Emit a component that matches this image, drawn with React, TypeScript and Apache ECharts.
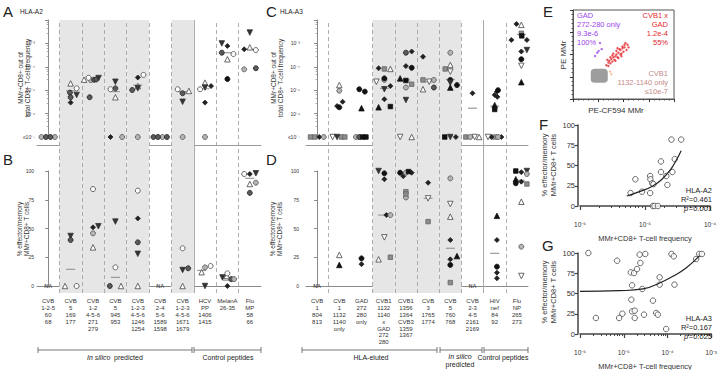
import React, { useEffect, useRef } from "react";
import * as echarts from "echarts";

const FONT = '"Liberation Sans", Arial, Helvetica, sans-serif';

// ---------- categories ----------
const catsA = [
  "CVB\n1-2-5\n60\n68", "CVB\n5\n169\n177", "CVB\n1-2\n4-5-6\n271\n279", "CVB\n5\n945\n953",
  "CVB\n1-2-3\n4-5-6\n1246\n1254", "CVB\n2-4\n5-6\n1589\n1598", "CVB\n1-2-3\n4-5-6\n1671\n1679",
  "HCV\nPP\n1406\n1415", "MelanA\n26-35", "Flu\nMP\n58\n66",
];
const catsC = [
  "CVB\n1\n804\n813", "CVB\n1\n1132\n1140\nonly", "GAD\n272\n280\nonly", "CVB1\n1132\n1140\nx\nGAD\n272\n280",
  "CVB1\n1356\n1364\nCVB3\n1359\n1367", "CVB\n3\n1765\n1774", "CVB\n5\n760\n768", "CVB\n2-3\n4-5\n2161\n2169",
  "HIV\nnef\n84\n92", "Flu\nNP\n265\n273",
];

// shaded categories and separators (category index units)
const shadedA = [1, 2, 3, 4, 6];
const dashedA = [0.5, 1.5, 2.5, 3.5, 4.5, 5.5, 7.5, 8.5];
const solidA = [6.5];
const shadedC = [3, 4, 5, 6];
const dashedC = [0.5, 2.5, 3.5, 4.5, 5.5, 6.5, 8.5];
const solidC = [7.5];
const thresholdA = 4.2e-6;
const thresholdC = 4.2e-6;
const naB = [0, 5];
const naD = [0, 7];

// ---------- panel data: [category position, value, donor marker] ----------
const ptsA: [number, number, string][] = [
  [-0.3, 1e-7, "xc"], [-0.1, 1e-7, "dc"], [0.1, 1e-7, "dc"], [0.3, 1e-7, "xc"],
  [1, 1.95e-5, "ot"], [1.27, 1.2e-5, "oc"], [0.97, 7.9e-6, "dc"], [1.27, 6.3e-6, "fd"], [1, 5.0e-6, "dc"], [1, 2.95e-6, "dm"], [1, 9.5e-6, "med"],
  [1.6, 2.8e-5, "ot"], [1.8, 3.4e-5, "oc"], [1.9, 2.7e-5, "xc"], [2.05, 2.8e-5, "dc"], [2.15, 2.9e-5, "dc"], [2.25, 3.3e-5, "fd"], [1.85, 5.0e-6, "dc"], [2, 2.75e-5, "med"],
  [2.78, 1.1e-5, "oc"], [3, 1.2e-5, "dc"], [3, 2.3e-5, "fd"], [3, 8.7e-6, "med"], [3, 5.0e-6, "ot"], [2.78, 1e-7, "dm"], [3.3, 1e-7, "xc"],
  [3.75, 1.02e-5, "dc"], [4, 1.5e-5, "ot"], [4, 1.2e-5, "fd"], [4, 3.5e-5, "dm"], [4.25, 4.5e-5, "oc"], [4, 1.66e-5, "med"], [4, 1e-7, "xc"],
  [4.7, 1e-7, "dc"], [4.9, 1e-7, "dc"], [5.1, 1e-7, "xc"], [5.3, 1e-7, "dc"],
  [5.78, 1.1e-5, "oc"], [6, 7.4e-6, "dc"], [6.28, 9.3e-6, "ot"], [6, 3.2e-6, "fd"], [6, 8.7e-6, "med"], [6, 1e-7, "xc"],
  [6.78, 1.1e-5, "oc"], [7, 2.1e-5, "ot"], [7, 1.3e-5, "fd"], [7.27, 1.5e-5, "dm"], [7, 2.95e-6, "dm"], [7, 1.15e-5, "med"], [7, 1e-7, "xc"],
  [7.75, 1e-3, "fd"], [8, 7.8e-4, "dm"], [7.75, 4e-4, "dc"], [8.27, 3.5e-4, "oc"], [8, 2.1e-4, "ot"], [8, 3.0e-5, "fc"], [8, 4e-4, "med"],
  [9, 2.9e-3, "fd"], [8.75, 5.6e-4, "dm"], [9, 6.8e-4, "ot"], [9.27, 5.2e-4, "oc"], [9, 5.6e-4, "med"], [8.75, 7.8e-5, "xc"], [9.27, 8.7e-5, "dc"],
];
const ptsB: [number, number, string][] = [
  [1, 43.5, "fd"], [1, 40, "dc"], [1, 14.5, "med"], [0.75, 0, "ot"], [1.27, 0, "oc"],
  [2, 84.3, "oc"], [2, 51, "dm"], [2.24, 52, "fd"], [2, 45.8, "xc"], [2, 33.6, "ot"],
  [3, 56, "fd"], [3, 16.2, "oc"], [3, 7.5, "med"], [2.75, 0, "dc"], [3.25, 0, "ot"],
  [4, 82.9, "oc"], [4, 58.8, "dm"], [4, 38, "dc"], [4, 28, "fd"], [4, 0, "ot"],
  [6, 32.8, "oc"], [6, 13.9, "fd"], [6.25, 15.4, "dc"], [6, 0, "ot"],
  [7, 16.2, "xc"], [6.85, 12, "ot"], [6.85, 13.5, "med"], [7.25, 17.4, "oc"], [7, 0, "fd"],
  [8, 11, "oc"], [7.78, 7.5, "fd"], [7.97, 8.7, "ot"], [8.17, 6, "dc"], [8.3, 6, "xc"], [8, 5, "med"], [8, 0, "dm"],
  [8.75, 97.4, "oc"], [9, 97.4, "dm"], [9.27, 98, "fd"], [9, 93.6, "med"], [9, 88.7, "ot"], [9.27, 89.8, "xc"], [9, 81, "dc"],
];
const ptsC: [number, number, string][] = [
  [-0.3, 1e-7, "gs"], [-0.1, 1e-7, "gs"], [0.1, 1e-7, "dm"], [0.3, 1e-7, "xc"],
  [1, 1.66e-5, "ot"], [1, 9.5e-6, "xc"], [1.15, 3.2e-6, "dm"], [0.9, 2.1e-6, "dm"], [1, 1.86e-6, "fc"], [0.7, 1e-7, "od"], [0.9, 1e-7, "fd"], [1.1, 1e-7, "gs"], [1.25, 1e-7, "gs"],
  [1.9, 1.1e-5, "fc"], [2.15, 8.7e-6, "fc"], [2, 1.7e-6, "ft"], [1.75, 1e-7, "xc"], [1.9, 1e-7, "dc"], [2.05, 1e-7, "bs"], [2.2, 1e-7, "bs"],
  [2.77, 8.7e-5, "dm"], [3.03, 8.1e-5, "gs"], [3.3, 8.1e-5, "ot"], [2.67, 2.3e-5, "od"], [3.03, 2.75e-5, "xc"], [3.03, 3.2e-5, "fc"], [3.03, 1.2e-5, "med"], [3.03, 1.1e-5, "fd"], [3.3, 1.5e-5, "dm"], [3.03, 4.1e-6, "dm"], [2.77, 1.86e-6, "ft"], [3.3, 2.0e-6, "bs"],
  [4, 4e-4, "dc"], [4.26, 4.5e-4, "dm"], [4, 1.07e-4, "dm"], [4.26, 9.1e-5, "fc"], [3.74, 3.2e-5, "ft"], [4, 2.6e-5, "bs"], [4, 2.75e-5, "med"], [4, 1.3e-5, "xc"], [4.26, 1.8e-5, "gs"], [4, 3.8e-6, "fd"], [3.74, 1e-7, "od"], [4.26, 1e-7, "ot"],
  [4.77, 2.7e-4, "dm"], [4.77, 2.75e-5, "gs"], [5.05, 2.3e-5, "od"], [5.26, 2.75e-5, "xc"], [4.77, 1.1e-5, "ot"], [5.26, 1.3e-5, "dc"], [5, 2.3e-5, "med"],
  [6, 4e-4, "xc"], [5.77, 8.1e-5, "gs"], [6, 1.2e-4, "ot"], [6, 6.2e-5, "od"], [6, 2.75e-5, "fc"], [6, 2.9e-5, "med"], [6, 2.1e-5, "fd"], [6, 1.3e-5, "ft"], [6.3, 1.66e-5, "fc"], [5.75, 1e-7, "bs"], [6, 1e-7, "fd"], [6.25, 1e-7, "dm"],
  [7, 7.4e-6, "dm"], [7, 1.7e-6, "med"], [6.7, 1e-7, "gs"], [6.9, 1e-7, "xc"], [7.1, 1e-7, "od"], [7.3, 1e-7, "ot"],
  [8.1, 8.7e-6, "dm"], [8, 6.3e-6, "dm"], [8.12, 5.2e-6, "dm"], [8.15, 1.0e-5, "fc"], [8, 2.1e-6, "med"], [8, 2.3e-6, "ft"], [8, 1.5e-6, "bs"], [7.7, 1e-7, "od"], [7.85, 1e-7, "dm"], [8, 1e-7, "gs"], [8.15, 1e-7, "xc"], [8.3, 1e-7, "dm"],
  [8.98, 6.8e-3, "dm"], [9.2, 6.2e-3, "ot"], [9.2, 2.7e-3, "gs"], [9.22, 2.1e-3, "bs"], [9.2, 2.4e-3, "med"], [8.75, 1.4e-3, "dm"], [9.45, 1.4e-3, "dm"], [9.2, 4.5e-4, "dm"], [9.45, 5.2e-4, "fd"], [9.2, 2.1e-4, "fc"], [9.2, 1.1e-4, "od"], [9.2, 2.2e-5, "ft"],
];
const ptsD: [number, number, string][] = [
  [1, 27, "ot"], [1, 18.3, "ft"],
  [2, 24, "fc"], [2, 19, "dm"],
  [2.77, 100, "fd"], [3.03, 98, "fc"], [3.03, 92.8, "dm"], [2.95, 61.7, "med"], [3.12, 61.7, "dm"], [3.3, 61.7, "xc"], [3.03, 42.3, "od"], [2.77, 23.2, "ot"], [3.3, 25, "gs"],
  [3.74, 98.5, "fc"], [4, 98.5, "xc"], [4.12, 99.5, "bs"], [4.26, 98.5, "dm"], [3.88, 95.5, "dm"], [4, 82, "gs"], [4, 80, "gs"], [4, 77, "xc"], [4, 98.5, "med"],
  [5, 89.8, "dm"], [5, 76.2, "od"], [5, 76.2, "med"], [5, 56, "gs"],
  [6, 93.6, "xc"], [6, 71.3, "od"], [6, 60.3, "ot"], [6, 40, "dm"], [6, 32.8, "med"], [6, 23.2, "dm"], [6.3, 26, "ft"], [6, 18.3, "fc"], [6, 3, "gs"],
  [8.1, 61, "ft"], [8.1, 40, "dm"], [8, 28.4, "med"], [8.1, 16.8, "fc"], [8.1, 11.6, "dm"], [8.1, 6.7, "dm"],
  [8.95, 100, "bs"], [9.2, 99, "dm"], [9.45, 100, "fd"], [9.45, 97.4, "xc"], [8.95, 92.8, "ft"], [8.95, 89.3, "fc"], [9.2, 90.7, "dm"], [9.45, 88.7, "gs"], [9.15, 92, "med"], [9.2, 73.3, "ot"], [9.2, 34.2, "xc"], [9.2, 8.7, "od"],
];

// ---------- panel E (flow plot, arbitrary fluorescence units 0-100) ----------
const eGray = [[26, 26]];
const eRed = [
  [33, 38], [35, 41], [36, 43], [37, 40], [38, 45], [39, 42], [40, 47], [41, 44], [42, 48], [39, 49],
  [43, 50], [44, 47], [45, 52], [43, 54], [47, 50], [47, 55], [48, 51], [49, 57], [50, 53], [51, 58],
  [53, 55], [54, 61], [46, 56], [42, 43], [37, 47], [49, 59], [35, 37], [51, 61], [45, 46], [40, 51],
  [52, 63], [55, 58], [44, 57], [34, 44], [48, 48],
];
const ePurple = [[26.7, 63], [28.4, 56], [25.4, 54], [21.8, 48.3], [24, 52]];
const eOrange = [[36.6, 30.7], [38, 28]];

// ---------- panels F and G ----------
const fPts = [
  [7.1e-6, 33], [6.0e-6, 16], [9.0e-6, 17.7], [1.2e-5, 37], [1.21e-5, 33], [1.29e-5, 28], [1.35e-5, 27],
  [1.2e-5, 16], [1.32e-5, 0], [1.4e-5, 0], [1.58e-5, 0], [1.76e-5, 55], [1.76e-5, 42], [2.13e-5, 37],
  [2.21e-5, 26], [2.64e-5, 42], [2.55e-5, 82], [2.87e-5, 58], [3.6e-5, 82],
];
const fFit = [[5.25e-6, 12.3], [8.2e-6, 17.7], [1.32e-5, 24.7], [1.89e-5, 34.2], [2.55e-5, 46.5], [3.04e-5, 56.8], [3.6e-5, 68.3]];
const gPts = [
  [1.55e-6, 100], [2.31e-6, 19.8], [7.05e-6, 90.5], [7.83e-6, 19.8], [9.3e-6, 25.1], [1.45e-5, 76.1],
  [1.55e-5, 60.1], [1.49e-5, 42.4], [1.55e-5, 28], [1.78e-5, 28.8], [1.78e-5, 19.8], [1.72e-5, 75.3],
  [2.01e-5, 80.2], [2.31e-5, 98], [2.39e-5, 87.7], [3.1e-5, 98.8], [2.65e-5, 55.6], [2.9e-5, 23.9],
  [4.65e-5, 41.2], [5.5e-5, 25.9], [6.0e-5, 23.9], [6.6e-5, 70], [6.6e-5, 60.9], [9.3e-5, 6.2],
  [1.23e-4, 98.8], [1.39e-4, 95.9], [1.44e-4, 60.9], [4.49e-4, 92.6], [5.3e-4, 98.8], [6.1e-4, 98.8],
];
const gFit = [[1.0e-6, 52.7], [8.1e-6, 53.5], [2.75e-5, 55.6], [6.6e-5, 63], [1.32e-4, 71.2], [2.65e-4, 81.5], [5.4e-4, 96.7]];

// ---------- styling ----------
const MK: Record<string, any> = {
  oc: { symbol: "circle", size: 5, fill: "#fff", stroke: "#444" },
  fc: { symbol: "circle", size: 5, fill: "#111", stroke: "#111" },
  dc: { symbol: "circle", size: 5, fill: "#5a5a5a", stroke: "#222" },
  xc: { symbol: "circle", size: 5, fill: "#b4b4b4", stroke: "#555" },
  ot: { symbol: "triangle", size: 5.5, fill: "#fff", stroke: "#444" },
  ft: { symbol: "triangle", size: 5.5, fill: "#111", stroke: "#111" },
  fd: { symbol: "triangle", size: 5.5, fill: "#333", stroke: "#333", rotate: 180 },
  od: { symbol: "triangle", size: 5.5, fill: "#fff", stroke: "#444", rotate: 180 },
  dm: { symbol: "diamond", size: 5, fill: "#222", stroke: "#222" },
  gs: { symbol: "rect", size: 4.5, fill: "#8c8c8c", stroke: "#666" },
  bs: { symbol: "rect", size: 4.5, fill: "#111", stroke: "#111" },
  med: { symbol: "rect", size: [9, 1.2], fill: "#9a9a9a", stroke: "#9a9a9a" },
};

const SUP: Record<string, string> = { "-": "⁻", "0": "⁰", "1": "¹", "2": "²", "3": "³", "4": "⁴", "5": "⁵", "6": "⁶", "7": "⁷", "8": "⁸", "9": "⁹" };
const sup = (s: string) => s.split("").map((c) => SUP[c] || c).join("");
const expOf = (v: number) => Math.round(Math.log10(v));

function buildOption() {
  const grid: any[] = [];
  const xAxis: any[] = [];
  const yAxis: any[] = [];
  const series: any[] = [];
  const addGrid = (g: any) => { grid.push(g); return grid.length - 1; };
  const addX = (a: any) => { xAxis.push(a); return xAxis.length - 1; };
  const addY = (a: any) => { yAxis.push(a); return yAxis.length - 1; };

  const hiddenCat = (gi: number) => addX({ type: "value", gridIndex: gi, min: -0.5, max: 9.5, show: false });

  // background band grid (shading + separators) spanning top and bottom panels
  const background = (left: number, width: number, shaded: number[], dashed: number[], solid: number[]) => {
    const gi = addGrid({ left, width, top: 20, height: 273 });
    const xi = hiddenCat(gi);
    const yi = addY({ type: "value", gridIndex: gi, min: 0, max: 1, show: false });
    series.push({
      type: "scatter", xAxisIndex: xi, yAxisIndex: yi, data: [[0, 0.5]], symbolSize: 0, silent: true, z: -2,
      markArea: { silent: true, itemStyle: { color: "#e6e6e6" }, data: shaded.map((i) => [{ xAxis: i - 0.5 }, { xAxis: i + 0.5 }]) },
    });
    series.push({
      type: "scatter", xAxisIndex: xi, yAxisIndex: yi, data: [[0, 0.5]], symbolSize: 0, silent: true, z: -1,
      markLine: {
        silent: true, symbol: ["none", "none"], label: { show: false },
        lineStyle: { color: "#9a9a9a", width: 0.8, type: [4, 3] },
        data: [
          ...dashed.map((b) => ({ xAxis: b })),
          ...solid.map((b) => ({ xAxis: b, lineStyle: { type: "solid", color: "#aaa", width: 1 } })),
        ],
      },
    });
  };

  const scatterGroups = (pts: [number, number, string][], xi: number, yi: number) => {
    const groups: Record<string, number[][]> = {};
    pts.forEach(([x, v, m]) => { (groups[m] = groups[m] || []).push([x, v]); });
    Object.keys(groups).forEach((m) => {
      const s = MK[m];
      series.push({
        type: "scatter", xAxisIndex: xi, yAxisIndex: yi, data: groups[m], silent: true,
        symbol: s.symbol, symbolSize: s.size, symbolRotate: s.rotate || 0,
        itemStyle: { color: s.fill, borderColor: s.stroke, borderWidth: m === "med" ? 0 : 0.8, opacity: 1 },
        z: m === "med" ? 3 : 4,
      });
    });
  };

  const freqPanel = (left: number, width: number, cats: string[], pts: any, thr: number, yOffset: number) => {
    const gi = addGrid({ left, width, top: 20, height: 117 });
    addX({
      type: "category", gridIndex: gi, data: cats, position: "bottom", offset: 8,
      axisLine: { lineStyle: { color: "#9a9a9a", width: 1 } },
      axisTick: { alignWithLabel: true, length: 3, lineStyle: { color: "#9a9a9a" } },
      axisLabel: { show: false }, splitLine: { show: false },
    });
    const xi = hiddenCat(gi);
    const yi = addY({
      type: "log", gridIndex: gi, min: 1e-7, max: 1e-2, logBase: 10, offset: yOffset,
      axisLine: { show: true, lineStyle: { color: "#888" } },
      axisTick: { show: true, length: 3, lineStyle: { color: "#888" } },
      minorTick: { show: true, splitNumber: 5, length: 1.5, lineStyle: { color: "#aaa" } },
      splitLine: { show: false },
      axisLabel: {
        fontSize: 5, margin: 2, color: "#333",
        formatter: (v: number) => { const e = expOf(v); if (e >= -2) return ""; return (e === -7 ? "≤10" : "10") + sup(String(e)); },
      },
    });
    scatterGroups(pts, xi, yi);
    series.push({
      type: "scatter", xAxisIndex: xi, yAxisIndex: yi, data: [], silent: true, z: 1,
      markLine: { silent: true, symbol: ["none", "none"], label: { show: false }, lineStyle: { color: "#b0b0b0", width: 1, type: "solid" }, data: [{ yAxis: thr }] },
    });
  };

  const pctPanel = (left: number, width: number, cats: string[], pts: any, na: number[], yOffset: number) => {
    const gi = addGrid({ left, width, top: 171, height: 115 });
    addX({
      type: "category", gridIndex: gi, data: cats, position: "bottom", offset: 7,
      axisLine: { lineStyle: { color: "#8a8a8a", width: 1 } },
      axisTick: { alignWithLabel: true, length: 3, lineStyle: { color: "#8a8a8a" } },
      axisLabel: { interval: 0, fontSize: 6, lineHeight: 6.8, color: "#333", margin: 5 },
      splitLine: { show: false },
    });
    const xi = hiddenCat(gi);
    const yi = addY({
      type: "value", gridIndex: gi, min: 0, max: 100, interval: 25, offset: yOffset,
      axisLine: { show: true, lineStyle: { color: "#888" } },
      axisTick: { show: true, length: 3, lineStyle: { color: "#888" } },
      splitLine: { show: false },
      axisLabel: { fontSize: 5, margin: 3, color: "#333" },
    });
    scatterGroups(pts, xi, yi);
    series.push({
      type: "scatter", xAxisIndex: xi, yAxisIndex: yi, data: na.map((i) => [i, 0]), symbolSize: 0, silent: true, z: 5,
      label: { show: true, position: "inside", formatter: "NA", fontSize: 5.5, fontWeight: "bold", color: "#333" },
    });
  };

  background(37, 224, shadedA, dashedA, solidA);
  freqPanel(37, 224, catsA, ptsA, thresholdA, 0);
  pctPanel(37, 224, catsA, ptsB, naB, 0);

  background(306, 222, shadedC, dashedC, solidC);
  freqPanel(306, 222, catsC, ptsC, thresholdC, 4);
  pctPanel(306, 222, catsC, ptsD, naD, 4);

  // ---- E ----
  {
    const gi = addGrid({ left: 573, top: 10, width: 101, height: 89, show: true, borderColor: "#555", borderWidth: 1 });
    const xi = addX({
      type: "value", gridIndex: gi, min: 0, max: 100, interval: 25,
      axisLine: { lineStyle: { color: "#555" } }, axisTick: { length: 3, lineStyle: { color: "#333" } },
      minorTick: { show: true, splitNumber: 5, length: 1.5, lineStyle: { color: "#555" } },
      axisLabel: { show: false }, splitLine: { show: false },
    });
    const yi = addY({
      type: "value", gridIndex: gi, min: 0, max: 100, interval: 25,
      axisLine: { lineStyle: { color: "#555" } }, axisTick: { length: 3, lineStyle: { color: "#333" } },
      minorTick: { show: true, splitNumber: 5, length: 1.5, lineStyle: { color: "#555" } },
      axisLabel: { show: false }, splitLine: { show: false },
    });
    series.push({ type: "scatter", xAxisIndex: xi, yAxisIndex: yi, data: eGray, symbol: "roundRect", symbolSize: [17, 14], itemStyle: { color: "#858585" }, silent: true });
    series.push({ type: "scatter", xAxisIndex: xi, yAxisIndex: yi, data: eRed, symbolSize: 2.4, itemStyle: { color: "#e3262c" }, silent: true });
    series.push({ type: "scatter", xAxisIndex: xi, yAxisIndex: yi, data: ePurple, symbolSize: 2.4, itemStyle: { color: "#9b45e8" }, silent: true });
    series.push({ type: "scatter", xAxisIndex: xi, yAxisIndex: yi, data: eOrange, symbolSize: 2, itemStyle: { color: "#f2a66a" }, silent: true });
  }

  // ---- F & G ----
  const corrPanel = (top: number, width: number, xmax: number, pts: number[][], fit: number[][]) => {
    const gi = addGrid({ left: 580, top, width, height: 81 });
    const xi = addX({
      type: "log", gridIndex: gi, min: 1e-6, max: xmax, logBase: 10, offset: 11,
      axisLine: { lineStyle: { color: "#444", width: 1.5 } },
      axisTick: { length: 4, lineStyle: { color: "#444", width: 1.2 } },
      minorTick: { show: true, splitNumber: 9, length: 2, lineStyle: { color: "#444" } },
      splitLine: { show: false },
      axisLabel: { fontSize: 6.5, color: "#333", margin: 4, formatter: (v: number) => "10" + sup(String(expOf(v))) },
    });
    const yi = addY({
      type: "value", gridIndex: gi, min: 0, max: 100, interval: 25, offset: 2,
      axisLine: { show: true, lineStyle: { color: "#444", width: 1.5 } },
      axisTick: { show: true, length: 3, lineStyle: { color: "#444", width: 1.2 } },
      splitLine: { show: false },
      axisLabel: { fontSize: 7.5, color: "#333", margin: 3 },
    });
    series.push({
      type: "scatter", xAxisIndex: xi, yAxisIndex: yi, data: pts, symbol: "circle", symbolSize: 5.5, silent: true,
      itemStyle: { color: "#fff", borderColor: "#333", borderWidth: 0.9 }, z: 3,
    });
    series.push({
      type: "line", xAxisIndex: xi, yAxisIndex: yi, data: fit, smooth: true, showSymbol: false, silent: true,
      lineStyle: { color: "#222", width: 1.2 }, z: 4,
    });
  };
  corrPanel(125, 130, 1e-4, fPts, fFit);
  corrPanel(253, 132, 1e-3, gPts, gFit);

  // ---- annotations ----
  const T = (x: number, y: number, text: string, extra: any = {}) => ({
    type: "text", x, y, silent: true, z: 10,
    style: { text, fontFamily: FONT, fill: "#222", fontSize: 7, verticalAlign: "top", ...extra },
  });
  // vertical (rotated) text centred on (x, y)
  const V = (x: number, y: number, text: string, fontSize: number, lineHeight: number) => ({
    type: "text", x, y, rotation: Math.PI / 2, silent: true, z: 10,
    style: { text, fontFamily: FONT, fill: "#333", fontSize, lineHeight, align: "center", verticalAlign: "middle" },
  });
  const L = (x1: number, y1: number, x2: number, y2: number) => ({
    type: "line", silent: true, z: 10, shape: { x1, y1, x2, y2 }, style: { stroke: "#555", lineWidth: 0.8 },
  });
  const bracket = (x1: number, x2: number, y: number) => [L(x1, y, x2, y), L(x1, y - 3, x1, y + 3), L(x2, y - 3, x2, y + 3)];

  const graphic: any[] = [
    T(3, 4, "A", { fontSize: 15 }), T(20, 8, "HLA-A2", { fontSize: 6.5 }),
    T(3, 152, "B", { fontSize: 15 }),
    T(266, 4, "C", { fontSize: 15 }), T(280, 8, "HLA-A3", { fontSize: 6.5 }),
    T(266, 152, "D", { fontSize: 15 }),
    T(543, 4, "E", { fontSize: 15 }),
    T(539, 117, "F", { fontSize: 15 }),
    T(542, 238, "G", { fontSize: 15 }),
    // axis titles
    V(23.5, 78, "MMr+CD8+ out of\ntotal CD8+ T-cell frequency", 6.5, 7),
    V(22.5, 229, "% effector/memory\nMMr+CD8+ T cells", 6.5, 7),
    V(276.5, 78, "MMr+CD8+ out of\ntotal CD8+ T-cell frequency", 6.5, 7),
    V(275.5, 229, "% effector/memory\nMMr+CD8+ T cells", 6.5, 7),
    V(563, 55, "PE MMr", 8, 9),
    T(616, 106, "PE-CF594 MMr", { align: "center", fontSize: 8, fill: "#333" }),
    V(549, 165, "% effector/memory\nMMr+CD8+ T cells", 7.5, 8.5),
    V(549, 292, "% effector/memory\nMMr+CD8+ T cells", 7.5, 8.5),
    T(645, 234, "MMr+CD8+ T-cell frequency", { align: "center", fontSize: 7.5, fill: "#333" }),
    T(645, 362, "MMr+CD8+ T-cell frequency", { align: "center", fontSize: 7.5, fill: "#333" }),
    // group brackets
    ...bracket(38, 192, 350), ...bracket(194, 261, 350),
    T(87, 354, "In silico", { fontStyle: "italic" }), T(114, 354, "predicted"),
    T(228, 354, "Control peptides", { align: "center" }),
    ...bracket(302, 437, 350), ...bracket(440, 482, 350), ...bracket(484, 528, 350),
    T(371, 354, "HLA-eluted", { align: "center" }),
    T(460, 353, "In silico", { align: "center", fontStyle: "italic" }),
    T(460, 361, "predicted", { align: "center" }),
    T(503, 354, "Control peptides", { align: "center" }),
    // E texts
    T(577, 11, "GAD\n272-280 only\n9.3e-6\n100%", { fill: "#9b45e8", fontSize: 7.5, lineHeight: 9 }),
    T(668, 11, "CVB1 x\nGAD\n1.2e-4\n55%", { fill: "#e3262c", fontSize: 7.5, lineHeight: 9, align: "right" }),
    T(668, 69, "CVB1\n1132-1140 only\n≤10e-7", { fill: "#c48a88", fontSize: 7.5, lineHeight: 9, align: "right" }),
    // F / G stats
    T(712, 186, "HLA-A2", { align: "right", fontSize: 7.5 }),
    T(712, 195, "R²=0.461", { align: "right", fontSize: 7.5 }),
    T(684, 204, "p", { fontSize: 7.5, fontStyle: "italic" }), T(712, 204, "=0.001", { align: "right", fontSize: 7.5 }),
    T(712, 314, "HLA-A3", { align: "right", fontSize: 7.5 }),
    T(712, 323, "R²=0.167", { align: "right", fontSize: 7.5 }),
    T(684, 332, "p", { fontSize: 7.5, fontStyle: "italic" }), T(712, 332, "=0.025", { align: "right", fontSize: 7.5 }),
  ];

  return {
    animation: false,
    backgroundColor: "#fff",
    textStyle: { fontFamily: FONT },
    grid, xAxis, yAxis, series, graphic,
  };
}

export default function App() {
  const ref = useRef<HTMLDivElement>(null);
  useEffect(() => {
    const chart = echarts.init(ref.current!, undefined, { renderer: "svg" });
    chart.setOption(buildOption() as any);
    return () => chart.dispose();
  }, []);
  return <div ref={ref} style={{ position: "fixed", left: 0, top: 0, width: 720, height: 370, background: "#fff" }} />;
}
